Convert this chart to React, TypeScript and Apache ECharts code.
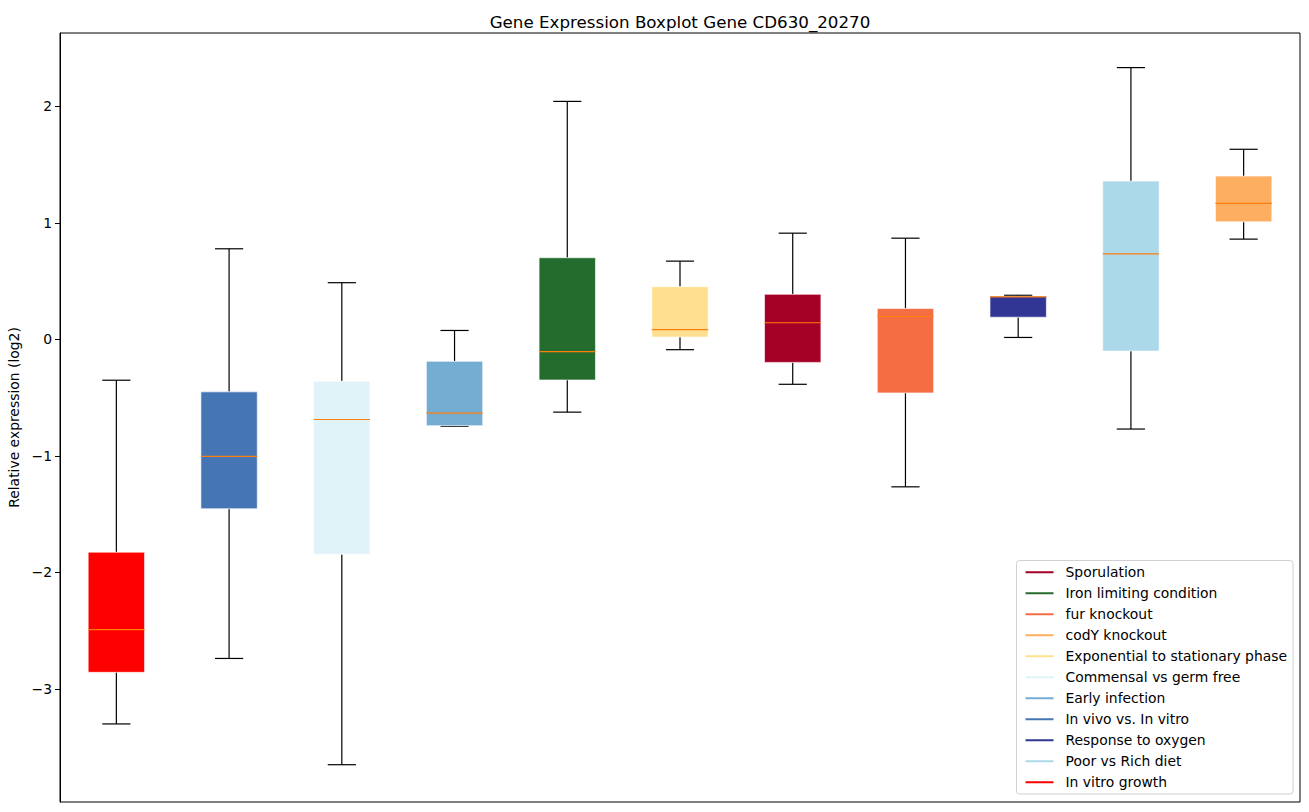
import React, { useEffect, useRef } from "react";
import * as echarts from "echarts";

const categories = [
  "In vitro growth",
  "In vivo vs. In vitro",
  "Commensal vs germ free",
  "Early infection",
  "Iron limiting condition",
  "Exponential to stationary phase",
  "Sporulation",
  "fur knockout",
  "Response to oxygen",
  "Poor vs Rich diet",
  "codY knockout",
];
const colors = [
  "#ff0000",
  "#4575b4",
  "#e0f3f8",
  "#74add1",
  "#246b2e",
  "#fee090",
  "#a50026",
  "#f46d43",
  "#313695",
  "#abd9e9",
  "#fdae61",
];
const whiskerLow = [-3.3, -2.738, -3.65, -0.745, -0.624, -0.088, -0.385, -1.265, 0.017, -0.769, 0.861];
const q1 = [-2.857, -1.453, -1.843, -0.74, -0.348, 0.02, -0.197, -0.459, 0.191, -0.1, 1.009];
const medians = [-2.49, -1.003, -0.687, -0.632, -0.105, 0.085, 0.143, 0.197, 0.365, 0.735, 1.168];
const q3 = [-1.826, -0.45, -0.359, -0.188, 0.701, 0.453, 0.387, 0.265, 0.37, 1.359, 1.402];
const whiskerHigh = [-0.35, 0.778, 0.487, 0.077, 2.043, 0.672, 0.912, 0.869, 0.379, 2.333, 1.632];
const legendOrder = [
  "Sporulation",
  "Iron limiting condition",
  "fur knockout",
  "codY knockout",
  "Exponential to stationary phase",
  "Commensal vs germ free",
  "Early infection",
  "In vivo vs. In vitro",
  "Response to oxygen",
  "Poor vs Rich diet",
  "In vitro growth",
];
const yTicks = [-3, -2, -1, 0, 1, 2];

const FONT = "DejaVu Sans";

export default function App() {
  const ref = useRef<HTMLDivElement>(null);
  useEffect(() => {
    if (!ref.current) return;
    const chart = echarts.init(ref.current, null, { renderer: "svg" });
    const series = categories.map((name, i) => ({
      type: "custom",
      name,
      itemStyle: { color: colors[i] },
      data: [[i + 1, whiskerLow[i], q1[i], medians[i], q3[i], whiskerHigh[i]]],
      encode: { x: 0, y: [1, 2, 3, 4, 5] },
      renderItem: (params: any, api: any) => {
        const x = api.value(0);
        const lo = api.coord([x, api.value(1)]);
        const b1 = api.coord([x, api.value(2)]);
        const md = api.coord([x, api.value(3)]);
        const b3 = api.coord([x, api.value(4)]);
        const hi = api.coord([x, api.value(5)]);
        const bw = api.size([0.5, 0])[0];
        const cw = api.size([0.25, 0])[0];
        const cx = lo[0];
        const black = { stroke: "#000", lineWidth: 1.2 };
        return {
          type: "group",
          children: [
            { type: "line", shape: { x1: cx, y1: b1[1], x2: cx, y2: lo[1] }, style: black },
            { type: "line", shape: { x1: cx, y1: b3[1], x2: cx, y2: hi[1] }, style: black },
            { type: "line", shape: { x1: cx - cw / 2, y1: lo[1], x2: cx + cw / 2, y2: lo[1] }, style: black },
            { type: "line", shape: { x1: cx - cw / 2, y1: hi[1], x2: cx + cw / 2, y2: hi[1] }, style: black },
            {
              type: "rect",
              shape: { x: cx - bw / 2, y: b3[1], width: bw, height: b1[1] - b3[1] },
              style: { fill: colors[params.seriesIndex], stroke: "rgba(255,255,255,0.6)", lineWidth: 1 },
            },
            {
              type: "line",
              shape: { x1: cx - bw / 2, y1: md[1], x2: cx + bw / 2, y2: md[1] },
              style: { stroke: "#ff7f0e", lineWidth: 1.2 },
            },
          ],
        };
      },
    }));
    chart.setOption({
      animation: false,
      backgroundColor: "#fff",
      title: {
        text: "Gene Expression Boxplot Gene CD630_20270",
        left: 675,
        textAlign: "center",
        top: 8,
        textStyle: { fontFamily: FONT, fontSize: 16.7, fontWeight: "normal", color: "#000" },
      },
      grid: {
        left: 60,
        right: 9,
        top: 33,
        bottom: 10,
        show: true,
        borderColor: "#000",
        borderWidth: 1,
        backgroundColor: "transparent",
        outerBoundsMode: "none",
        containLabel: false,
      },
      xAxis: {
        type: "value",
        min: 0.5,
        max: 11.5,
        axisLine: { show: false },
        axisTick: { show: false },
        axisLabel: { show: false },
        splitLine: { show: false },
      },
      yAxis: {
        type: "value",
        min: -3.97,
        max: 2.63,
        name: "Relative expression (log2)",
        nameLocation: "middle",
        nameGap: 38,
        nameTextStyle: { fontFamily: FONT, fontSize: 13.9, color: "#000" },
        axisLine: { show: true, lineStyle: { color: "#000" } },
        axisTick: {
          show: true,
          length: 5,
          lineStyle: { color: "#000" },
          customValues: yTicks,
        },
        axisLabel: {
          customValues: yTicks,
          fontFamily: FONT,
          fontSize: 13.9,
          color: "#000",
          margin: 8,
          formatter: (v: number) => String(v).replace("-", "\u2212"),
        },
        splitLine: { show: false },
      },
      legend: {
        data: legendOrder,
        orient: "vertical",
        right: 16,
        bottom: 18,
        icon: "rect",
        itemWidth: 28,
        itemHeight: 2,
        itemGap: 5.5,
        padding: [4, 6, 4, 9],
        borderColor: "#d0d0d0",
        borderWidth: 1,
        borderRadius: 3,
        backgroundColor: "rgba(255,255,255,0.8)",
        selectedMode: false,
        textStyle: {
          fontFamily: FONT,
          fontSize: 13.9,
          color: "#000",
          lineHeight: 15.5,
          padding: [0, 0, 0, 7],
        },
      },
      series,
    });
    return () => chart.dispose();
  }, []);
  return (
    <div
      ref={ref}
      style={{ position: "fixed", left: 0, top: 0, width: 1309, height: 812 }}
    />
  );
}
